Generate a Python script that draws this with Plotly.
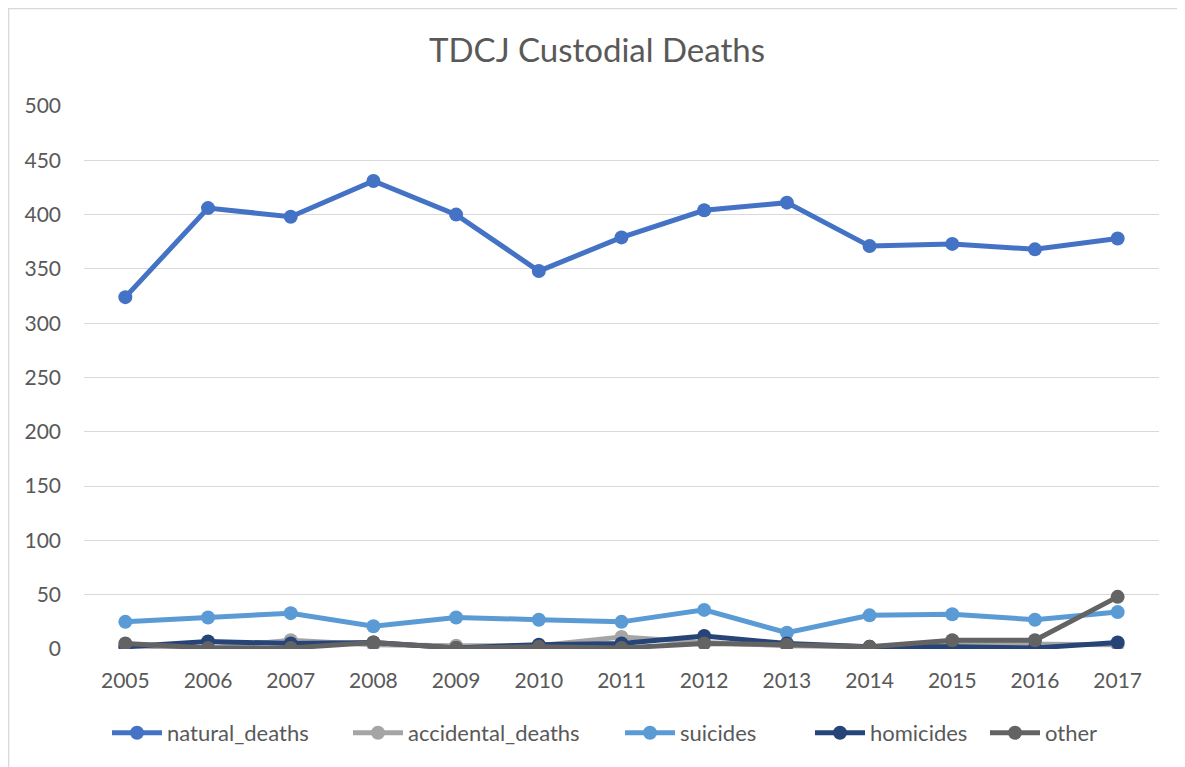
import plotly.graph_objects as go

years = ["2005", "2006", "2007", "2008", "2009", "2010", "2011", "2012", "2013", "2014", "2015", "2016", "2017"]
natural_deaths = [324, 406, 398, 431, 400, 348, 379, 404, 411, 371, 373, 368, 378]
accidental_deaths = [3, 1, 8, 4, 3, 3, 11, 6, 3, 2, 5, 5, 4]
suicides = [25, 29, 33, 21, 29, 27, 25, 36, 15, 31, 32, 27, 34]
homicides = [2, 7, 5, 6, 1, 4, 5, 12, 5, 2, 2, 1, 6]
other = [5, 1, 1, 6, 1, 2, 1, 5, 4, 2, 8, 8, 48]

series = [
    ("natural_deaths", natural_deaths, "#4472C4"),
    ("accidental_deaths", accidental_deaths, "#A5A5A5"),
    ("suicides", suicides, "#5B9BD5"),
    ("homicides", homicides, "#264478"),
    ("other", other, "#636363"),
]

FONT = "Lato"
TXT = "#595959"

# page body has an 8px margin; lay out in figure coordinates
W, H = 1177, 759
L, R, T, B = 76, 26, 98, 118
pw, ph = W - L - R, H - T - B

# legend entry text start (screen px) for each series
legend_text_x = [167, 408, 680, 870, 1045]
OFF = 8

fig = go.Figure()
legends = {}
for i, (name, vals, col) in enumerate(series):
    lname = "legend" if i == 0 else f"legend{i + 1}"
    fig.add_trace(go.Scatter(
        x=years, y=vals, name=name, mode="lines+markers",
        line=dict(color=col, width=5),
        marker=dict(color=col, size=14, symbol="circle"),
        legend=lname,
    ))
    lx = (legend_text_x[i] - OFF - 60 - L) / pw
    legends[lname] = dict(orientation="h", x=lx, xanchor="left",
                          y=(H - B - 725) / ph, yanchor="middle",
                          bgcolor="rgba(0,0,0,0)",
                          font=dict(family=FONT, size=22, color=TXT),
                          itemwidth=50)

fig.update_layout(
    width=W, height=H,
    margin=dict(l=L, r=R, t=T, b=B, autoexpand=False),
    paper_bgcolor="white", plot_bgcolor="white",
    font=dict(family=FONT, color=TXT, size=21),
    title=dict(text="TDCJ Custodial Deaths", x=(597 - OFF) / W,
               xanchor="center", xref="container",
               y=1 - 42 / H, yanchor="middle",
               font=dict(family=FONT, size=33, color=TXT)),
    showlegend=True,
    xaxis=dict(type="category", range=[-0.5, 12.5], showgrid=False,
               zeroline=False, automargin=False,
               showline=False, ticks="", tickfont=dict(size=21, color=TXT),
               ticklabelstandoff=17),
    yaxis=dict(range=[0, 500], dtick=50, tick0=0, showgrid=True,
               gridcolor="#D9D9D9", gridwidth=1.3, zeroline=False,
               automargin=False,
               showline=False, ticks="", tickfont=dict(size=21, color=TXT),
               ticklabelstandoff=22),
    shapes=[dict(type="rect", xref="paper", yref="paper",
                 x0=(0.7 - L) / pw, x1=(W + 10 - L) / pw,
                 y0=-(B + 10) / ph, y1=(H - B - 0.7) / ph,
                 line=dict(color="#D9D9D9", width=1.3), layer="below")],
    **legends,
)

fig.write_html("out.html")
